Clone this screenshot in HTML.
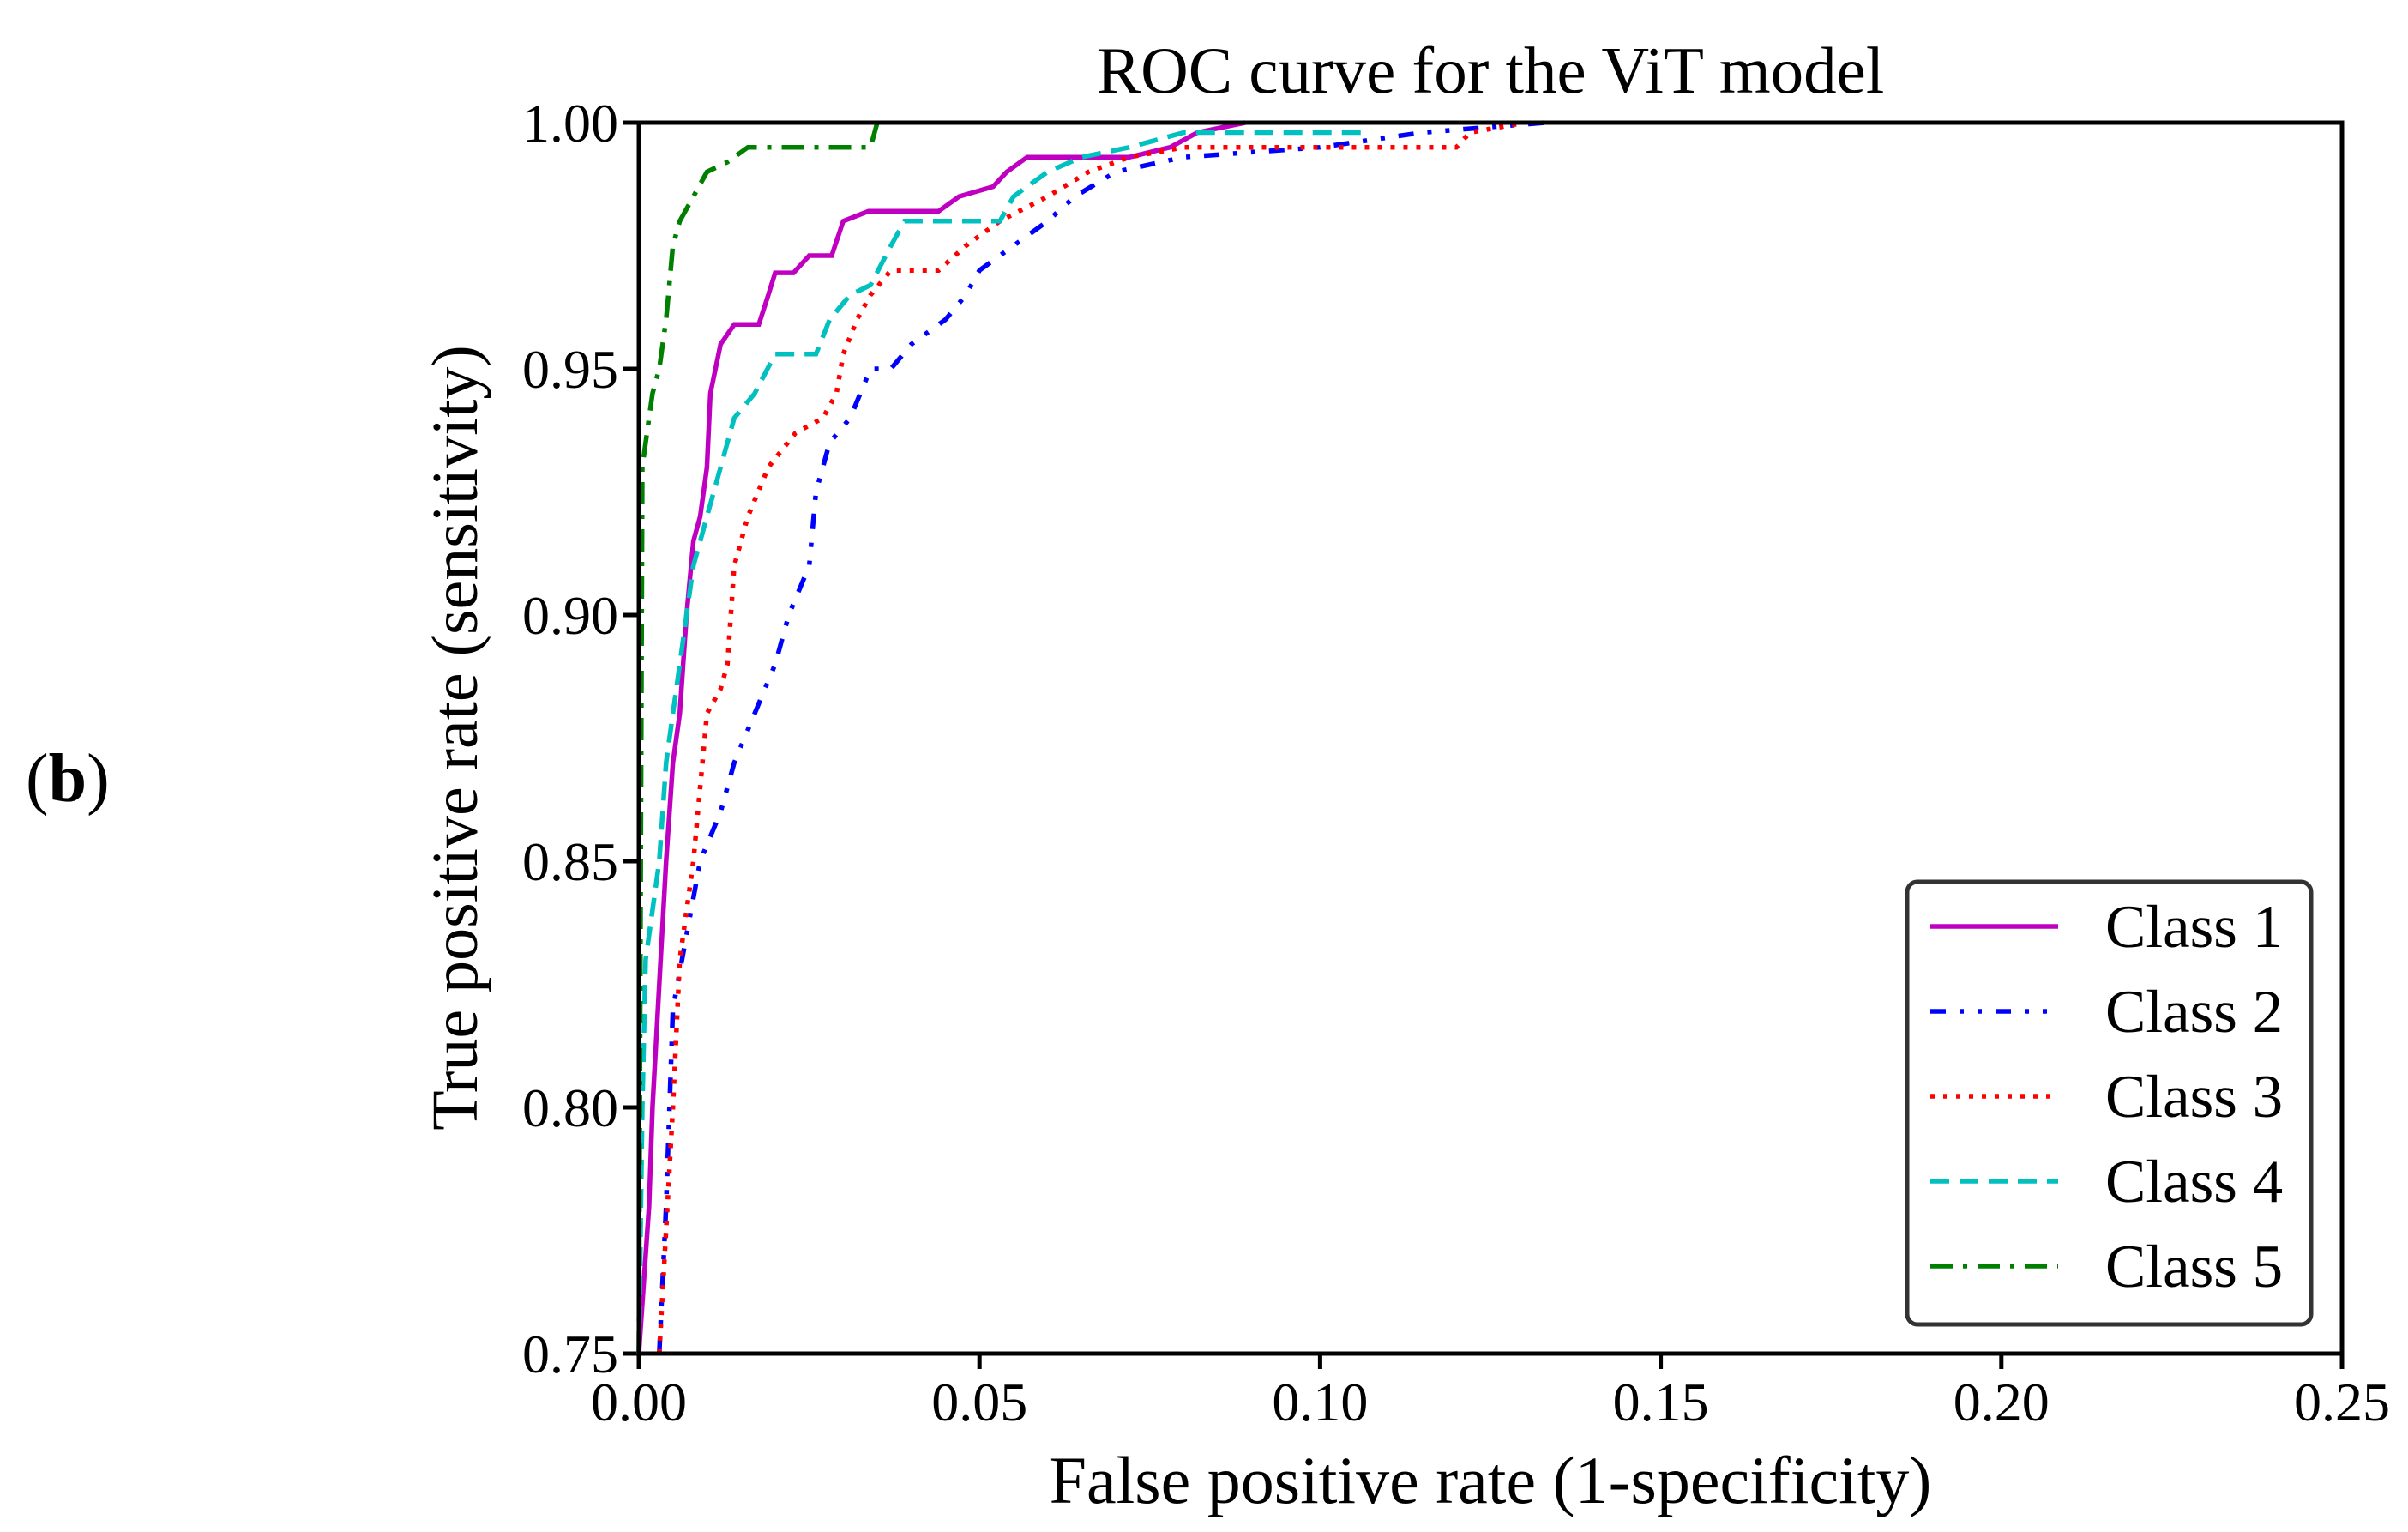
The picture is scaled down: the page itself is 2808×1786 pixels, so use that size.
<!DOCTYPE html>
<html><head><meta charset="utf-8"><style>
html,body{margin:0;padding:0;background:#fff}
svg{display:block}
text{font-family:"Liberation Serif",serif;fill:#000}
</style></head><body>
<svg id="chart" width="2808" height="1786" viewBox="0 0 2808 1786" xmlns="http://www.w3.org/2000/svg">
<text x="30" y="934" font-size="80">(<tspan font-weight="bold">b</tspan>)</text>
<text x="1738" y="108" font-size="77" text-anchor="middle">ROC curve for the ViT model</text>
<text x="1738" y="1752" font-size="78" text-anchor="middle">False positive rate (1-specificity)</text>
<text transform="translate(556,860) rotate(-90)" font-size="76" text-anchor="middle">True positive rate (sensitivity)</text>
<g id="ticks"></g>
<g id="series"></g>
<rect x="745" y="143" width="1986" height="1435" fill="none" stroke="#000" stroke-width="5"/>
<g id="legend"></g>
</svg>
<script>
const xTicks=[0,0.05,0.10,0.15,0.20,0.25];
const xTickLabels=["0.00","0.05","0.10","0.15","0.20","0.25"];
const yTicks=[0.75,0.80,0.85,0.90,0.95,1.00];
const yTickLabels=["0.75","0.80","0.85","0.90","0.95","1.00"];
const seriesNames=["Class 1","Class 2","Class 3","Class 4","Class 5"];
const c1x=[0,0.0015,0.002,0.003,0.004,0.005,0.006,0.007,0.008,0.009,0.01,0.0105,0.012,0.014,0.0176,0.019,0.02,0.0227,0.025,0.0283,0.03,0.0337,0.044,0.047,0.052,0.054,0.057,0.072,0.078,0.082,0.089];
const c1y=[0.75,0.78,0.80,0.825,0.85,0.87,0.88,0.90,0.915,0.92,0.93,0.945,0.955,0.959,0.959,0.965,0.9695,0.9695,0.973,0.973,0.98,0.982,0.982,0.985,0.987,0.99,0.993,0.993,0.995,0.998,1.0];
const c2x=[0.003,0.004,0.005,0.009,0.012,0.014,0.017,0.02,0.022,0.025,0.026,0.028,0.031,0.034,0.037,0.04,0.045,0.048,0.05,0.055,0.06,0.064,0.07,0.08,0.1,0.115,0.133];
const c2y=[0.75,0.78,0.82,0.85,0.86,0.87,0.88,0.89,0.90,0.91,0.925,0.935,0.94,0.95,0.95,0.955,0.96,0.965,0.97,0.975,0.98,0.985,0.99,0.993,0.995,0.998,1.0];
const c3x=[0.003,0.005,0.006,0.008,0.009,0.01,0.012,0.013,0.014,0.016,0.019,0.023,0.027,0.029,0.03,0.032,0.034,0.037,0.044,0.048,0.053,0.06,0.066,0.072,0.08,0.12,0.122,0.13];
const c3y=[0.75,0.80,0.83,0.85,0.865,0.88,0.885,0.89,0.91,0.92,0.93,0.937,0.94,0.945,0.953,0.96,0.965,0.97,0.97,0.975,0.98,0.985,0.99,0.993,0.995,0.995,0.998,1.0];
const c4x=[0,0.0005,0.001,0.003,0.004,0.005,0.006,0.007,0.008,0.01,0.012,0.014,0.017,0.02,0.026,0.028,0.031,0.034,0.037,0.039,0.053,0.055,0.06,0.065,0.072,0.08,0.107];
const c4y=[0.75,0.80,0.83,0.85,0.87,0.88,0.89,0.90,0.91,0.92,0.93,0.94,0.945,0.953,0.953,0.96,0.965,0.967,0.975,0.98,0.98,0.985,0.99,0.993,0.995,0.998,0.998];
const c5x=[0,0.0005,0.001,0.002,0.003,0.004,0.005,0.006,0.008,0.01,0.013,0.016,0.034,0.035];
const c5y=[0.75,0.93,0.935,0.945,0.95,0.96,0.975,0.98,0.985,0.99,0.992,0.995,0.995,1.0];

const L=745,R=2731,T=143,B=1578;
const sx=v=>L+(v-0)/(0.25-0)*(R-L);
const sy=v=>B-(v-0.75)/(1-0.75)*(B-T);
const NS="http://www.w3.org/2000/svg";
function mk(tag,attrs,parent){const e=document.createElementNS(NS,tag);for(const k in attrs)e.setAttribute(k,attrs[k]);parent.appendChild(e);return e;}
const ticks=document.getElementById('ticks');
xTicks.forEach((v,i)=>{
  const t=mk('line',{x1:sx(v),x2:sx(v),y1:B,y2:B+18,stroke:'#000','stroke-width':5},ticks);
  
  
  const tx=mk('text',{x:sx(v),y:B+78,'font-size':64,'text-anchor':'middle'},ticks);
  tx.textContent=xTickLabels[i];
  
  
});
yTicks.forEach((v,i)=>{
  const t=mk('line',{x1:L-18,x2:L,y1:sy(v),y2:sy(v),stroke:'#000','stroke-width':5},ticks);
  
  
  const tx=mk('text',{x:L-24,y:sy(v)+22,'font-size':64,'text-anchor':'end'},ticks);
  tx.textContent=yTickLabels[i];
  
  
});
const styles=[
 {c:'#c000c0',d:''},
 {c:'#0000ff',d:'18 16 5 16 5 16'},
 {c:'#ff0000',d:'5 10'},
 {c:'#00c0c0',d:'22 12'},
 {c:'#008000',d:'26 12 5 12'}];
const data=[[c1x,c1y],[c2x,c2y],[c3x,c3y],[c4x,c4y],[c5x,c5y]];
const sg=document.getElementById('series');
data.forEach((s,i)=>{
  const pts=s[0].map((x,j)=>sx(x).toFixed(1)+','+sy(s[1][j]).toFixed(1)).join(' ');
  const p=mk('polyline',{points:pts,fill:'none',stroke:styles[i].c,'stroke-width':5.5,'stroke-dasharray':styles[i].d},sg);
  
  
});
const lg=document.getElementById('legend');
const box=mk('rect',{x:2224,y:1028,width:471,height:516,rx:12,fill:'#fff',stroke:'#333','stroke-width':5},lg);


seriesNames.forEach((n,i)=>{
  const y=1080+i*99;
  const l=mk('line',{x1:2251,x2:2400,y1:y,y2:y,stroke:styles[i].c,'stroke-width':5.5,'stroke-dasharray':styles[i].d},lg);
  
  
  const t=mk('text',{x:2455,y:y+24,'font-size':71},lg);
  t.textContent=n;
  
  
});
</script>
</body></html>
